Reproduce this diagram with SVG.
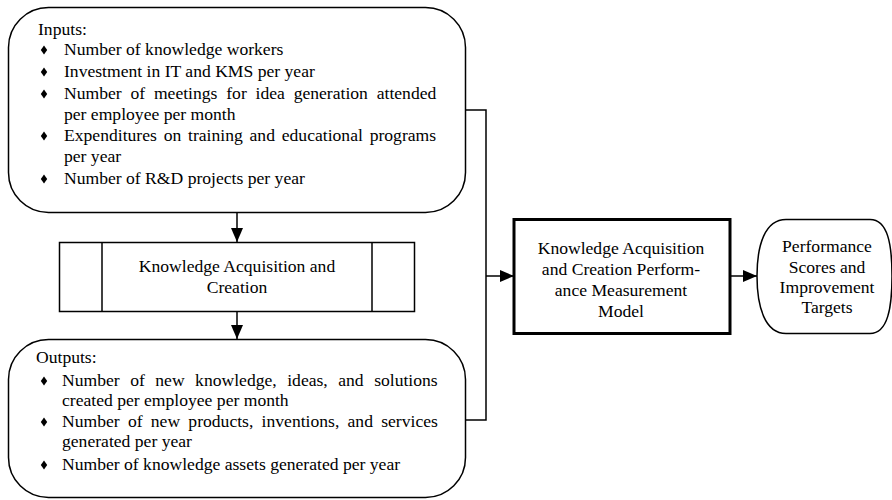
<svg xmlns="http://www.w3.org/2000/svg" width="892" height="500" viewBox="0 0 892 500">
<style>
text{font-family:"Liberation Serif","Times New Roman",serif;font-size:17.6px;fill:#000}
.c{text-anchor:middle}
.box{fill:#fff;stroke:#000;stroke-width:1.5}
.thick{fill:#fff;stroke:#000;stroke-width:3}
.ln{fill:none;stroke:#000;stroke-width:1.5}
</style>
<defs>
<marker id="ah" viewBox="0 0 14 12" refX="14" refY="6" markerWidth="14" markerHeight="12" markerUnits="userSpaceOnUse" orient="auto">
<path d="M0,0 L14,6 L0,12 Z" fill="#000"/>
</marker>
<path id="dm" d="M0,-4.5 L3.2,0 L0,4.5 L-3.2,0 Z" fill="#000"/>
</defs>
<g id="connectors">
<line class="ln" x1="237" y1="212" x2="237" y2="242" marker-end="url(#ah)"/>
<line class="ln" x1="237" y1="311" x2="237" y2="339" marker-end="url(#ah)"/>
<polyline class="ln" points="466,110 486,110 486,420 465,420"/>
<line class="ln" x1="486" y1="276" x2="514" y2="276" marker-end="url(#ah)"/>
<line class="ln" x1="731" y1="276" x2="757" y2="276" marker-end="url(#ah)"/>
</g>
<g id="inputs">
<rect class="box" x="8.5" y="7.5" width="457" height="205" rx="40" ry="40"/>
<text x="38" y="35">Inputs:</text>
<use href="#dm" x="44" y="50"/>
<text x="64" y="55">Number of knowledge workers</text>
<use href="#dm" x="44" y="72"/>
<text x="64" y="77">Investment in IT and KMS per year</text>
<use href="#dm" x="44" y="94"/>
<text x="64" y="99" word-spacing="4.4">Number of meetings for idea generation attended</text>
<text x="64" y="120">per employee per month</text>
<use href="#dm" x="44" y="136"/>
<text x="64" y="141" word-spacing="2.4">Expenditures on training and educational programs</text>
<text x="64" y="162">per year</text>
<use href="#dm" x="44" y="179"/>
<text x="64" y="184">Number of R&amp;D projects per year</text>
</g>
<g id="kac">
<rect class="box" x="59.5" y="242.5" width="355" height="69"/>
<line class="ln" x1="102" y1="242.5" x2="102" y2="311.5"/>
<line class="ln" x1="372" y1="242.5" x2="372" y2="311.5"/>
<text class="c" x="237" y="272">Knowledge Acquisition and</text>
<text class="c" x="237" y="293">Creation</text>
</g>
<g id="outputs">
<rect class="box" x="8.5" y="339.5" width="457" height="158" rx="40" ry="40"/>
<text x="36" y="363">Outputs:</text>
<use href="#dm" x="44" y="381"/>
<text x="62" y="386" word-spacing="6.1">Number of new knowledge, ideas, and solutions</text>
<text x="62" y="406">created per employee per month</text>
<use href="#dm" x="44" y="422"/>
<text x="62" y="427" word-spacing="3.85">Number of new products, inventions, and services</text>
<text x="62" y="447">generated per year</text>
<use href="#dm" x="44" y="465"/>
<text x="62" y="470">Number of knowledge assets generated per year</text>
</g>
<g id="model">
<rect class="thick" x="514" y="219.5" width="216" height="114"/>
<text class="c" x="621" y="254">Knowledge Acquisition</text>
<text class="c" x="621" y="275">and Creation Perform-</text>
<text class="c" x="621" y="296">ance Measurement</text>
<text class="c" x="621" y="317">Model</text>
</g>
<g id="performance">
<path class="box" d="M786,219.5 L870,219.5 C888,219.5 892,245 892,276 C892,307 888,333.5 870,333.5 L786,333.5 C765,333.5 757,307 757,276 C757,245 765,219.5 786,219.5 Z"/>
<text class="c" x="827" y="252">Performance</text>
<text class="c" x="827" y="273">Scores and</text>
<text class="c" x="827" y="293">Improvement</text>
<text class="c" x="827" y="313">Targets</text>
</g>
</svg>
